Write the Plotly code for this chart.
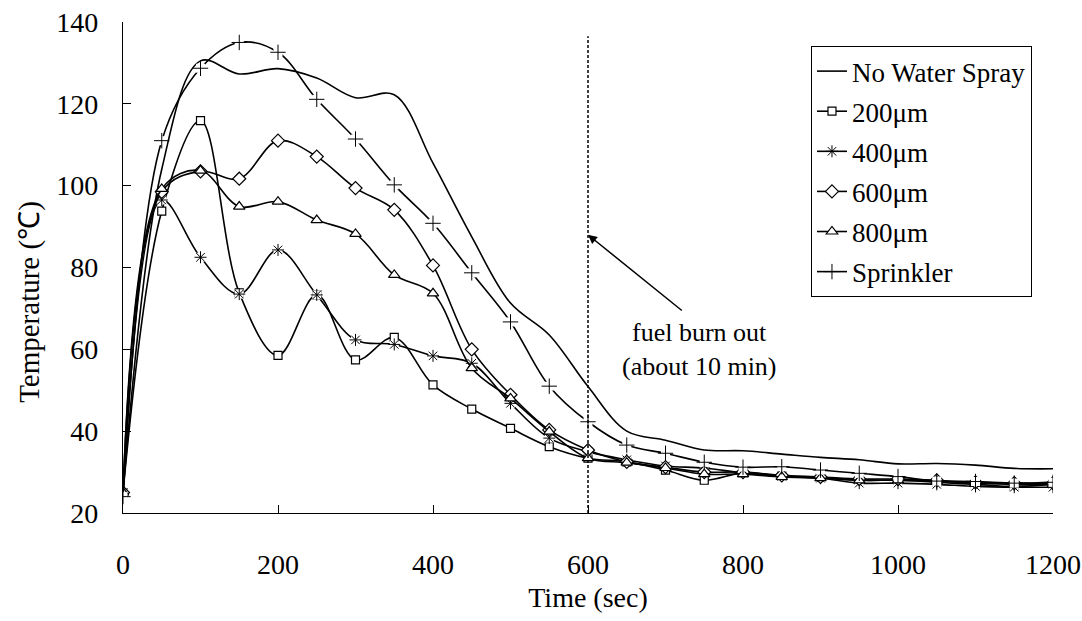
import plotly.graph_objects as go

time = [0, 50, 100, 150, 200, 250, 300, 350, 400, 450, 500, 550, 600,
        650, 700, 750, 800, 850, 900, 950, 1000, 1050, 1100, 1150, 1200]

no_water = [25, 104.0, 130.5, 127.3, 128.6, 126.3, 121.5, 122.2, 105.5, 87.5, 71.3, 63.5, 50.9,
            40.0, 37.8, 35.4, 35.2, 34.4, 33.6, 33.0, 32.0, 32.1, 31.7, 30.9, 30.8]
um200 = [25, 93.8, 115.9, 73.8, 58.5, 73.3, 57.4, 62.9, 51.3, 45.4, 40.7, 36.2, 33.4,
         32.5, 30.5, 28.0, 29.8, 29.0, 28.7, 28.0, 28.0, 27.5, 27.0, 26.5, 27.0]
um400 = [25, 96.5, 82.5, 73.5, 84.3, 73.3, 62.3, 61.2, 58.4, 56.6, 46.8, 38.3, 35.0,
         33.0, 31.5, 31.0, 29.8, 29.0, 28.5, 27.3, 27.3, 27.0, 26.5, 26.3, 26.3]
um600 = [25, 98.5, 103.5, 101.7, 111.0, 107.1, 99.4, 94.1, 80.5, 60.0, 48.9, 40.3, 35.4,
         32.5, 31.2, 30.0, 30.0, 29.2, 28.8, 28.3, 28.3, 28.0, 27.5, 27.3, 27.3]
um800 = [25, 99.2, 103.7, 94.9, 96.1, 91.6, 88.2, 78.2, 73.7, 55.4, 48.0, 39.9, 33.4,
         32.3, 31.0, 29.5, 29.5, 28.8, 28.5, 28.0, 28.0, 27.8, 27.3, 27.0, 27.0]
sprinkler = [24, 111.0, 128.7, 135.0, 132.6, 121.1, 111.4, 100.2, 90.8, 78.7, 66.7, 51.0, 42.3,
             36.6, 34.6, 32.4, 31.2, 31.3, 30.5, 29.7, 28.9, 27.8, 27.7, 27.3, 27.5]

x_ticks = [0, 200, 400, 600, 800, 1000, 1200]
y_ticks = [20, 40, 60, 80, 100, 120, 140]

FONT = "Liberation Serif, Times New Roman, serif"
LW = 1.6

fig = go.Figure()


def add_filled(name, y, symbol, size, show_markers=True):
    fig.add_trace(go.Scatter(
        x=time, y=y, name=name, legendgroup=name,
        mode="lines+markers" if show_markers else "lines",
        line=dict(color="black", width=LW, shape="spline"),
        marker=dict(symbol=symbol, size=size, color="white",
                    line=dict(color="black", width=1.2)),
    ))


def add_thin(name, y, symbol, size):
    # line with a white backing under each marker (gap effect of the original)
    fig.add_trace(go.Scatter(
        x=time, y=y, name=name, legendgroup=name, showlegend=False,
        mode="lines+markers",
        line=dict(color="black", width=LW, shape="spline"),
        marker=dict(symbol="square", size=9, color="white", line=dict(width=0)),
    ))
    fig.add_trace(go.Scatter(
        x=time, y=y, name=name, legendgroup=name, showlegend=False,
        mode="markers",
        marker=dict(symbol=symbol, size=size, color="black",
                    line=dict(color="black", width=1.0)),
    ))
    # legend proxy
    fig.add_trace(go.Scatter(
        x=[None], y=[None], name=name, legendgroup=name, showlegend=True,
        mode="lines+markers",
        line=dict(color="black", width=LW),
        marker=dict(symbol=symbol, size=size, color="black",
                    line=dict(color="black", width=1.0)),
    ))


add_filled("No Water Spray", no_water, "circle", 1, show_markers=False)
add_filled("200μm", um200, "square", 8)
add_thin("400μm", um400, "asterisk-open", 10)
add_filled("600μm", um600, "diamond", 10)
add_filled("800μm", um800, "triangle-up", 10)
add_thin("Sprinkler", sprinkler, "cross-thin-open", 11)

axis_common = dict(
    showline=True, linecolor="black", linewidth=1.3,
    ticks="inside", ticklen=8, tickcolor="black", tickwidth=1,
    showgrid=False, zeroline=False, automargin=False,
    tickfont=dict(family=FONT, size=28, color="black"),
)

fig.update_layout(
    width=1082, height=621,
    margin=dict(l=123, r=29, t=22, b=108),
    paper_bgcolor="white", plot_bgcolor="white",
    font=dict(family=FONT, color="black"),
    xaxis=dict(range=[0, 1200], tickvals=x_ticks, ticklabelstandoff=26,
               title=dict(text="Time (sec)", font=dict(family=FONT, size=28), standoff=8),
               **axis_common),
    yaxis=dict(range=[20, 140], tickvals=y_ticks, ticklabelstandoff=18,
               **axis_common),
    legend=dict(x=0.9774, xanchor="right", y=0.951, yanchor="top",
                bordercolor="black", borderwidth=1, bgcolor="white",
                font=dict(family=FONT, size=27, color="black"),
                traceorder="grouped", tracegroupgap=2),
    showlegend=True,
)

# y-axis title (placed like the original, slightly below the plot centre)
fig.add_annotation(x=-0.1, y=0.43, xref="paper", yref="paper", textangle=-90,
                   xanchor="center", yanchor="middle",
                   text="Temperature (℃)",
                   showarrow=False,
                   font=dict(family=FONT, size=29, color="black"))

fig.add_shape(type="line", x0=600, x1=600, y0=20, y1=136.5, xref="x", yref="y",
              line=dict(color="black", width=1.5, dash="3px,2px"))

fig.add_annotation(x=600, y=88, ax=723, ay=69.2, axref="x", ayref="y", xref="x", yref="y",
                   text="", showarrow=True, arrowhead=2, arrowsize=1.2, arrowwidth=1.5,
                   arrowcolor="black")
fig.add_annotation(x=744.5, y=64.0, text="fuel burn out", showarrow=False,
                   font=dict(family=FONT, size=26, color="black"))
fig.add_annotation(x=744.5, y=55.7, text="(about 10 min)", showarrow=False,
                   font=dict(family=FONT, size=26, color="black"))

fig.write_html("out.html")
